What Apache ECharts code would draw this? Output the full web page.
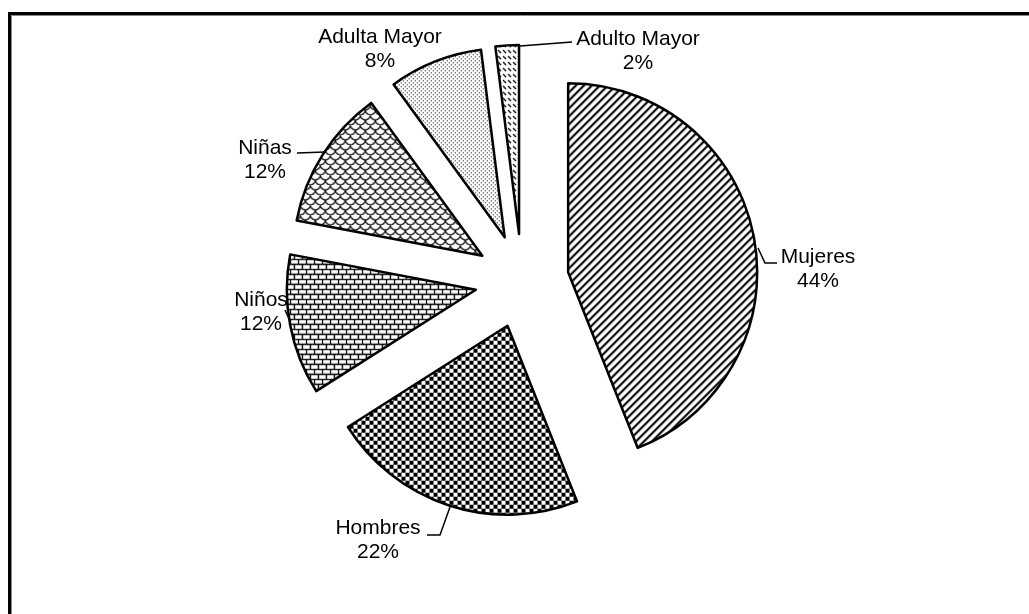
<!DOCTYPE html>
<html><head><meta charset="utf-8">
<script src="https://cdn.jsdelivr.net/npm/echarts@6/dist/echarts.min.js"></script>
<style>html,body{margin:0;padding:0;background:#fff;} #c{width:1029px;height:614px;}</style>
</head><body><div id="c"></div>
<script>
// ---- data ----
const categories = ['Mujeres', 'Hombres', 'Niños', 'Niñas', 'Adulta Mayor', 'Adulto Mayor'];
const values = [44, 22, 12, 12, 8, 2];

// ---- label placement (text block centre + leader line), layout only ----
const labelSpots = [
  { x: 818, y: 269, line: [[758, 248], [765, 263], [777, 263]] },
  { x: 378, y: 540, line: [[450, 507], [440, 535], [427, 535]] },
  { x: 261, y: 312, line: [[290, 321], [285, 310]] },
  { x: 265, y: 160, line: [[325, 152], [297, 153]] },
  { x: 380, y: 49, line: null },
  { x: 638, y: 51, line: [[520, 46], [572, 42]] }
];

// ---- fill patterns ----
function tile(w, h, draw) {
  const c = document.createElement('canvas');
  c.width = w; c.height = h;
  const g = c.getContext('2d');
  g.fillStyle = '#fff'; g.fillRect(0, 0, w, h);
  g.strokeStyle = '#000'; g.fillStyle = '#000';
  draw(g, w, h);
  return c;
}
const stripes = tile(8, 8, (g, s) => {
  g.lineWidth = 2.1; g.beginPath();
  g.moveTo(0, s); g.lineTo(s, 0);
  g.moveTo(-1, 1); g.lineTo(1, -1);
  g.moveTo(s - 1, s + 1); g.lineTo(s + 1, s - 1);
  g.stroke();
});
const checker = tile(8, 8, g => { g.fillRect(0, 0, 4, 4); g.fillRect(4, 4, 4, 4); });
const bricks = tile(8, 10, g => {
  g.lineWidth = 1.4; g.beginPath();
  g.moveTo(0, 0.5); g.lineTo(8, 0.5);
  g.moveTo(0, 5.5); g.lineTo(8, 5.5);
  g.moveTo(0.5, 0); g.lineTo(0.5, 5.5);
  g.moveTo(4.5, 5.5); g.lineTo(4.5, 10);
  g.stroke();
});
const scales = tile(10, 10, g => {
  g.lineWidth = 1.2;
  [[5, 0], [0, 5], [10, 5], [5, 10]].forEach(([cx, cy]) => {
    g.beginPath(); g.arc(cx, cy, 5, 0, Math.PI); g.stroke();
  });
});
const dots = tile(4, 4, g => { g.fillRect(0, 0, 1, 1); g.fillRect(2, 2, 1, 1); });
const dashes = tile(5, 6, g => {
  g.lineWidth = 1.2; g.beginPath(); g.moveTo(1, 1); g.lineTo(4, 4); g.stroke();
});
const patterns = [stripes, checker, bricks, scales, dots, dashes];

const total = values.reduce((a, b) => a + b, 0);
const labelGraphics = [];
categories.forEach((name, i) => {
  const s = labelSpots[i];
  labelGraphics.push({
    type: 'text', silent: true, z: 50,
    style: {
      text: name + '\n' + Math.round(values[i] / total * 100) + '%',
      x: s.x, y: s.y, align: 'center', verticalAlign: 'middle',
      fontSize: 21, lineHeight: 24.5, fill: '#000',
      fontFamily: 'Liberation Sans, Arial, sans-serif'
    }
  });
  if (s.line) {
    labelGraphics.push({
      type: 'polyline', silent: true, z: 50,
      shape: { points: s.line },
      style: { stroke: '#000', lineWidth: 1.5, fill: null }
    });
  }
});

const chart = echarts.init(document.getElementById('c'), null, { renderer: 'canvas' });
chart.setOption({
  animation: false,
  backgroundColor: '#fff',
  graphic: [
    { type: 'rect', silent: true, z: 100, shape: { x: 9.5, y: 13.5, width: 1100, height: 700 },
      style: { fill: 'none', stroke: '#000', lineWidth: 3 } },
    { type: 'rect', silent: true, z: 99, shape: { x: 11.5, y: 15.5, width: 1100, height: 700 },
      style: { fill: 'none', stroke: '#888', lineWidth: 1 } }
  ].concat(labelGraphics),
  series: [{
    type: 'pie',
    center: [522, 281],
    radius: 189,
    startAngle: 90,
    clockwise: true,
    selectedMode: 'multiple',
    selectedOffset: 47,
    avoidLabelOverlap: false,
    emphasis: { disabled: true },
    itemStyle: { borderColor: '#000', borderWidth: 2.5 },
    select: { itemStyle: { borderColor: '#000', borderWidth: 2.5 } },
    label: { show: false },
    labelLine: { show: false },
    data: categories.map((n, i) => ({
      name: n, value: values[i], selected: true,
      itemStyle: { color: { image: patterns[i], repeat: 'repeat' } }
    }))
  }]
});
</script></body></html>
